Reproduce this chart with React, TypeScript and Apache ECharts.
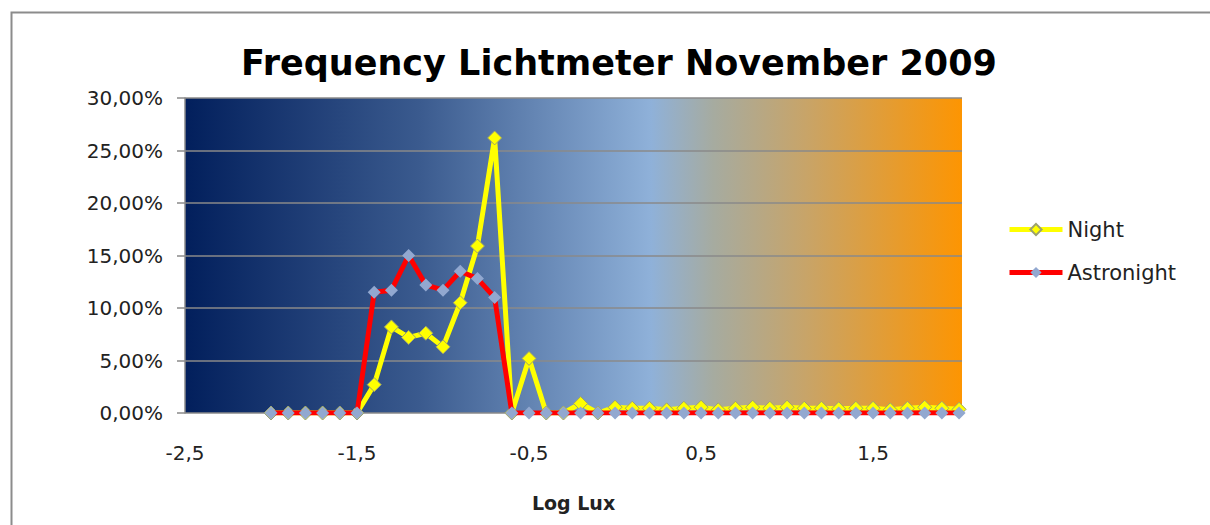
import React, { useEffect, useRef } from "react";
import * as echarts from "echarts";

const logLux = [
  -2.0, -1.9, -1.8, -1.7, -1.6, -1.5, -1.4, -1.3, -1.2, -1.1, -1.0, -0.9, -0.8, -0.7,
  -0.6, -0.5, -0.4, -0.3, -0.2, -0.1, 0.0, 0.1, 0.2, 0.3, 0.4, 0.5, 0.6, 0.7, 0.8,
  0.9, 1.0, 1.1, 1.2, 1.3, 1.4, 1.5, 1.6, 1.7, 1.8, 1.9, 2.0,
];

const night = [
  0, 0, 0, 0, 0, 0, 2.7, 8.2, 7.2, 7.6, 6.3, 10.5, 15.9, 26.2,
  0, 5.2, 0, 0, 0.9, 0, 0.55, 0.45, 0.45, 0.3, 0.45, 0.55, 0.3, 0.45, 0.55,
  0.45, 0.55, 0.45, 0.45, 0.4, 0.45, 0.45, 0.3, 0.45, 0.55, 0.45, 0.35,
];

const astronight = [
  0, 0, 0, 0, 0, 0, 11.5, 11.7, 15.0, 12.2, 11.7, 13.5, 12.8, 11.0,
  0, 0, 0, 0, 0, 0, 0, 0, 0, 0, 0, 0, 0, 0, 0,
  0, 0, 0, 0, 0, 0, 0, 0, 0, 0, 0, 0,
];

const FONT = "'DejaVu Sans', sans-serif";

export default function App() {
  const ref = useRef<HTMLDivElement>(null);
  useEffect(() => {
    if (!ref.current) return;
    const chart = echarts.init(ref.current, undefined, { renderer: "svg" });
    const fmtPct = (v: number) => v.toFixed(2).replace(".", ",") + "%";
    const fmtX = (v: number) => String(v).replace(".", ",");
    chart.setOption({
      animation: false,
      backgroundColor: "#ffffff",
      title: {
        text: "Frequency Lichtmeter November 2009",
        left: 614,
        top: 40,
        textAlign: "center",
        textStyle: { fontFamily: FONT, fontWeight: "bold", fontSize: 35, color: "#000" },
      },
      graphic: [
        {
          type: "rect",
          left: 9,
          top: 10,
          shape: { width: 1400, height: 700 },
          style: { fill: "none", stroke: "#8c8c8c", lineWidth: 2 },
          silent: true,
        },
      ],
      legend: {
        orient: "vertical",
        left: 1007,
        top: 219,
        padding: 0,
        itemWidth: 53,
        itemHeight: 14,
        itemGap: 22,
        lineStyle: { width: 5 },
        textStyle: { fontFamily: FONT, fontSize: 21, color: "#222" },
        data: ["Night", "Astronight"],
      },
      grid: {
        left: 185,
        top: 98,
        width: 777,
        height: 315,
        show: true,
        borderWidth: 0,
        backgroundColor: new echarts.graphic.LinearGradient(0, 0, 1, 0, [
          { offset: 0, color: "#021f5c" },
          { offset: 0.3, color: "#3a5a8e" },
          { offset: 0.6, color: "#8fb1d9" },
          { offset: 0.68, color: "#a6aba0" },
          { offset: 0.8, color: "#c8a468" },
          { offset: 1, color: "#fd9502" },
        ]),
      },
      xAxis: {
        type: "value",
        min: -2.5,
        max: 2.017,
        interval: 1,
        name: "Log Lux",
        nameLocation: "middle",
        nameGap: 80,
        nameTextStyle: { fontFamily: FONT, fontWeight: "bold", fontSize: 19, color: "#222" },
        axisLine: { show: false },
        axisTick: { show: false },
        splitLine: { show: false },
        axisLabel: {
          margin: 30,
          showMaxLabel: false,
          fontFamily: FONT,
          fontSize: 20,
          color: "#222",
          formatter: fmtX,
        },
      },
      yAxis: {
        type: "value",
        min: 0,
        max: 30,
        interval: 5,
        axisLine: { show: true, onZero: false, lineStyle: { color: "#8a8a8a", width: 1.5 } },
        axisTick: { show: true, inside: false, length: 8, lineStyle: { color: "#8a8a8a", width: 1.5 } },
        splitLine: { show: true, lineStyle: { color: "#8a8a8a", width: 1.5 } },
        axisLabel: {
          margin: 22,
          fontFamily: FONT,
          fontSize: 20,
          color: "#222",
          formatter: fmtPct,
        },
      },
      series: [
        {
          name: "Night",
          type: "line",
          data: logLux.map((x, i) => [x, night[i]]),
          symbol: "diamond",
          symbolSize: 14,
          lineStyle: { color: "#ffff00", width: 5 },
          itemStyle: { color: "#ffff00", borderColor: "#9aa070", borderWidth: 1 },
          z: 2,
        },
        {
          name: "Astronight",
          type: "line",
          data: logLux.map((x, i) => [x, astronight[i]]),
          symbol: "diamond",
          symbolSize: 13,
          lineStyle: { color: "#ff0000", width: 5 },
          itemStyle: { color: "#92a8d0", borderColor: "#92a8d0", borderWidth: 0 },
          z: 3,
        },
      ],
    });
    return () => chart.dispose();
  }, []);
  return (
    <div
      ref={ref}
      style={{ position: "fixed", left: 0, top: 0, width: 1210, height: 525 }}
    />
  );
}
